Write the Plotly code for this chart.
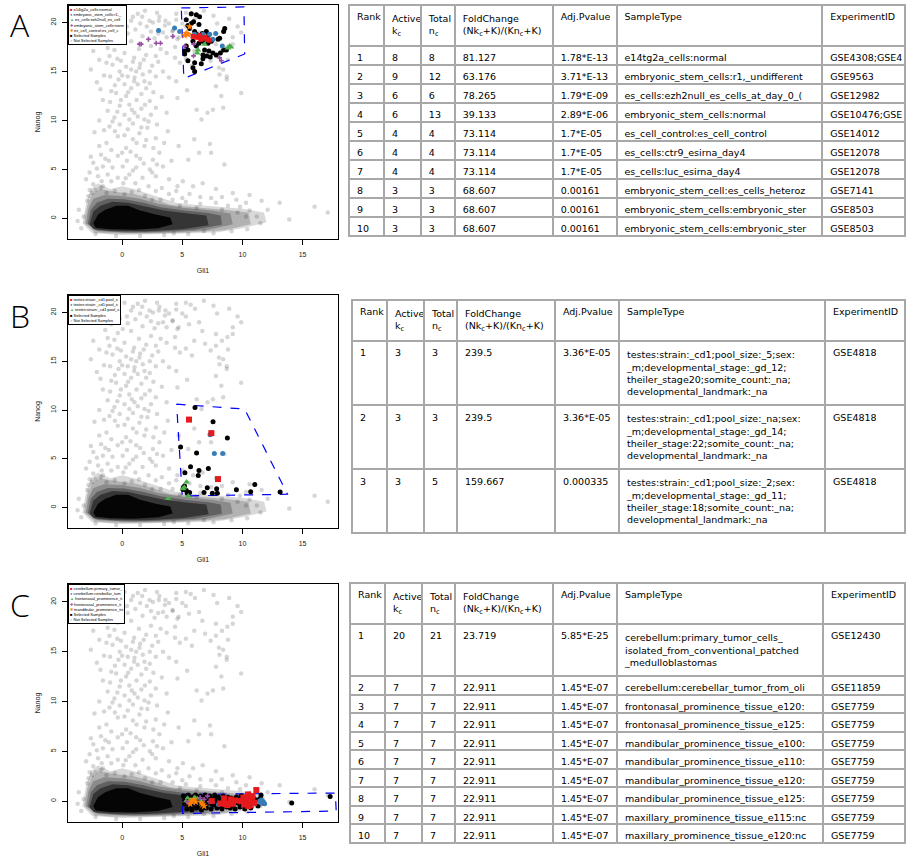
import plotly.graph_objects as go

W, H = 906, 859

# ---------------- background cloud (Gli1, Nanog), hand-read ----------------
cloud_pts = [
    (1.3,20.9),(1.67,20.6),(2.28,20.2),(2.56,20.0),(0.75,20.2),(3.1,20.6),(3.6,20.2),(3.9,19.9),(4.5,20.3),
    (2.05,19.6),(1.1,19.3),(0.47,18.9),(2.4,19.1),(3.4,19.0),(4.2,19.1),(1.7,18.6),(0.05,18.3),(-0.36,17.9),
    (0.75,18.1),(3.7,18.5),(4.6,18.3),(4.5,20.9),(5.3,21.0),(6.8,21.2),(7.6,20.7),(8.9,20.4),(9.6,19.6),
    (7.9,19.9),(5.0,19.9),(5.7,20.8),(6.06,20.4),(6.4,19.0),(5.3,19.6),(5.56,18.8),(6.67,18.1),(7.8,17.8),
    (8.3,17.1),(8.75,17.5),(9.2,17.8),(4.7,18.5),(4.2,19.2),(3.05,20.2),(3.56,19.7),(6.0,17.1),(6.9,16.8),
    (7.8,16.6),(8.05,15.4),(7.36,16.1),(5.8,15.6),(5.3,16.3),(4.4,17.5),(9.2,18.5),(9.9,19.0),
    (-1.9,16.2),(-1.05,16.6),(-0.64,17.2),(0.2,16.9),(1.0,16.4),(2.0,16.7),(2.8,16.6),(3.7,16.9),(4.4,16.4),
    (4.8,15.9),(8.8,16.2),(8.1,14.7),(8.7,14.5),(8.4,15.2),
    (0.33,15.5),(0.75,15.2),(1.17,15.0),(1.44,15.4),(1.72,14.7),(1.03,14.4),(0.47,14.5),(-0.2,15.0),(-0.8,15.7),
    (-1.3,15.9),(2.3,15.0),(2.8,14.5),(3.4,15.0),(1.86,14.0),(1.3,13.7),(0.75,13.3),(0.2,13.7),(2.3,13.8),
    (3.9,14.4),(4.5,14.0),(-1.5,14.6),(-2.1,13.9),(0.9,16.0),(1.5,15.8),(-0.4,16.3),
    (-0.5,12.8),(0.33,12.5),(1.2,12.1),(0.6,11.6),(-0.2,11.5),(1.6,12.7),(2.3,12.0),(-0.9,13.0),(-1.6,12.1),
    (2.8,11.3),(1.03,10.8),(0.2,10.6),(-0.64,10.3),(1.86,10.1),(3.7,10.8),(6.2,11.1),(7.1,10.8),(7.55,11.1),
    (8.4,11.3),(6.6,10.1),(9.9,12.8),(8.25,12.5),(7.8,13.5),(8.7,14.2),(-1.2,11.0),(4.6,12.3),(5.4,13.1),
    (-1.05,9.4),(-0.2,9.6),(0.47,9.1),(1.44,8.7),(2.1,9.25),(2.8,8.2),(0.9,8.1),(-0.36,8.4),(-1.3,7.7),
    (-1.9,7.4),(0.33,7.2),(1.86,7.4),(3.1,6.7),(1.17,6.4),(-0.36,6.4),(-1.75,6.5),(2.56,6.0),(6.0,8.1),
    (7.3,7.6),(6.4,6.7),(5.5,6.0),(8.5,5.5),(7.4,6.7),(-2.3,8.8),(3.8,8.9),(4.7,7.4),
    (-2.4,5.7),(-1.6,5.3),(-0.8,5.2),(0.05,5.3),(1.17,5.2),(2.3,5.0),(3.4,5.3),(-2.7,4.7),(-2.0,4.3),
    (-1.2,4.5),(-0.36,4.15),(0.6,4.5),(1.7,4.15),(2.8,4.3),(3.9,4.0),(5.05,3.8),(5.9,3.3),(6.7,3.6),
    (7.8,3.0),(-2.4,3.5),(-1.6,3.3),(4.5,2.8),(9.2,2.6),(10.6,2.4),
    (11.6,1.8),(12.1,0.9),(13.1,1.6),(13.9,-0.1),(16.0,1.2),(17.1,0.6),(-3.7,-0.27),(-3.6,0.9),
    (-1.7,19.0),(-1.0,19.8),(-0.5,20.5),(0.2,21.0),(1.9,21.2),(2.9,21.0),(-1.4,18.2),(-0.9,18.8),(0.4,19.6),
    (1.4,17.3),(2.4,17.6),(3.2,17.3),(-2.4,17.1),(-2.6,15.2),(-1.8,13.2),(-0.3,14.2),(2.6,12.9),(3.3,12.4),
    (-0.1,12.1),(1.6,11.2),(2.4,10.6),(-1.9,10.0),(-1.5,9.0),(0.9,9.7),(1.3,10.4),(2.9,9.6),(3.5,7.7),
    (-0.9,7.0),(0.7,6.8),(2.0,8.0),(-2.6,6.3),(-1.1,5.9),(0.4,5.9),(1.8,5.6),(2.9,5.5),(4.1,5.9),
    (-3.0,4.0),(-2.7,2.9),(-0.9,3.8),(0.1,3.6),(1.1,3.6),(2.2,3.3),(3.3,3.1),(4.6,3.3),(5.6,2.5),
    (6.5,2.2),(7.4,2.1),(8.3,2.2),(9.5,1.9),(10.3,1.6),
    (-3.2,0.2),(-2.9,1.8),(-2.5,2.6),(-1.8,3.1),(-0.6,2.8),(0.8,2.7),(1.9,2.3),(3.2,1.9),(4.2,1.9),
    (5.3,1.7),(6.5,1.5),(7.8,1.6),(8.8,1.3),(9.8,1.2),(10.6,0.8),(11.2,0.2),(11.5,-0.5),(10.4,-1.1),
    (9.1,-1.3),(7.6,-1.5),(5.5,-1.6),(3.5,-1.7),(1.5,-1.8),(-0.5,-1.8),(-2.2,-1.6),(-3.4,-1.0),
    (-2.8,2.3),(-2.2,2.9),(-1.3,2.6),(0.2,2.5),(2.5,1.9),(4.8,1.3),(6.2,1.1),(8.3,0.9),(9.6,0.6),
    (10.3,0.2),(6.8,-1.3),(4.3,-1.5),
    (-0.2,19.4),(0.9,20.6),(1.5,19.9),(2.7,18.4),(3.0,18.9),(-1.2,17.4),(-0.1,16.1),(1.8,16.2),(2.5,15.6),
    (3.0,16.0),(-1.0,14.5),(0.0,14.6),(1.0,14.0),(2.0,13.3),(-0.6,13.6),(0.5,12.9),(1.9,11.6),(-1.0,11.9),
    (0.8,11.1),(-0.4,10.9),(0.6,10.1),(2.2,9.9),(-0.8,9.9),(1.6,9.3),(-0.6,8.9),(0.2,8.5),(1.2,7.7),
    (2.6,7.2),(-1.4,6.1),(0.0,6.7),(1.5,6.1),(-2.1,5.1),(0.9,4.9),(2.5,4.7),(-1.7,3.8),(0.3,4.1),
    (1.4,2.9),(2.8,2.8),(3.9,2.5),(5.0,2.1),
]

# dense low-expression blob, as nested density outlines (outer -> core)
dens_outer = [(-3.3,-0.5),(-3.0,1.5),(-2.6,3.0),(-2.0,3.6),(-1.0,3.0),(0,3.3),(1.0,3.0),(2.0,2.6),(3.0,2.2),
              (4.5,1.6),(6.0,1.4),(8.0,1.2),(10.0,1.0),(11.8,0.6),(12.0,-0.4),(10,-1.0),(8,-1.4),(6,-1.5),
              (3,-1.6),(0,-1.7),(-2.5,-1.5)]
dens_outer2 = [(-3.15,-0.5),(-2.9,1.3),(-2.5,2.5),(-1.8,3.0),(-0.5,2.7),(1.0,2.5),(2.5,2.0),(4.0,1.4),(6.5,1.1),
               (8.5,0.9),(10.5,0.6),(10.7,-0.6),(8.5,-1.2),(5,-1.45),(2,-1.55),(-1,-1.55),(-2.3,-1.4)]
dens_mid = [(-3.0,-0.5),(-2.8,1.0),(-2.4,2.0),(-1.5,2.4),(0,2.3),(1.5,2.0),(3,1.5),(5,1.1),(7.5,0.8),
            (9.0,0.5),(9.2,-0.6),(7,-1.2),(4,-1.4),(1,-1.5),(-2.0,-1.3)]
dens_mid2 = [(-2.85,-0.55),(-2.6,0.9),(-2.1,1.6),(-1.2,2.0),(0.2,1.95),(1.8,1.6),(3.2,1.15),(5.2,0.8),(7.2,0.55),
             (8.2,0.3),(8.3,-0.65),(6,-1.15),(3,-1.35),(0,-1.4),(-2.2,-1.2)]
dens_inner = [(-2.7,-0.6),(-2.4,0.7),(-1.8,1.3),(-0.8,1.7),(0.5,1.6),(2,1.2),(3.5,0.8),(5.5,0.5),(7.0,0.3),
              (7.2,-0.7),(5,-1.1),(2,-1.3),(-1,-1.25),(-2.4,-1.1)]
dens_core = [(-2.4,-0.5),(-2.0,0.4),(-1.4,0.9),(-0.5,1.3),(0.5,1.3),(1.5,0.8),(2.8,0.4),(4.0,0.1),(4.2,-0.6),
             (3.0,-1.0),(1.0,-1.15),(-1.0,-1.1),(-2.2,-0.95)]

# ---------------- panel A ----------------
A_region = [(4.92,21.5),(10.13,21.6),(10.19,16.8),(5.13,14.3),(4.92,21.5)]
A_selected = [(5.75,20.9),(6.17,20.8),(6.44,20.6),(5.33,20.3),(5.94,20.1),(5.75,19.9),(5.47,19.7),(6.39,19.8),
              (5.61,19.4),(6.03,19.1),(6.17,18.8),(6.67,18.9),(7.0,19.1),(7.14,18.6),(8.11,18.4),(8.44,19.1),
              (8.53,19.4),(7.97,18.3),(5.89,18.1),(6.39,17.9),(6.72,18.1),(7.14,17.9),(7.42,18.1),(6.17,17.6),
              (5.47,17.2),(5.19,17.1),(5.33,17.6),(6.86,17.2),(7.22,17.1),(7.55,16.9),(7.05,16.6),(7.33,16.5),
              (7.83,16.7),(8.17,16.9),(8.44,17.2),(8.67,17.2),(5.47,16.1),(6.03,15.9),(6.58,15.8),(5.89,15.4),
              (6.72,16.3),(6.03,15.0),(6.72,16.7),(5.2,16.8)]
A_e14tg2a = [(5.9,18.6),(6.2,18.5),(6.45,18.7),(6.7,18.4),(6.9,18.5),(7.1,18.3),(7.25,18.2),(6.55,18.3)]
A_r1 = [(3.03,19.2),(4.36,19.45),(4.78,19.1),(6.03,18.8),(6.72,18.8),(7.28,18.8),(7.78,18.9),(7.55,18.3),(8.33,17.6)]
A_ezh2 = [(6.3,17.2),(6.25,16.9),(6.86,17.8),(8.94,17.6),(8.8,17.4),(9.05,17.5)]
A_normal = [(1.44,17.8),(1.58,17.8),(2.19,18.3),(2.83,17.9),(3.19,17.9),(4.22,18.6),(5.94,16.6),(8.11,16.4),
            (8.25,16.1),(5.2,17.6),(5.95,17.8)]
A_control = [(5.61,19.6),(5.33,18.9),(5.47,18.8),(5.19,18.7)]

# ---------------- panel B ----------------
B_region = [(4.53,10.6),(10.19,10.1),(13.75,1.36),(5.0,1.19),(4.53,10.6)]
B_selected = [(6.06,10.27),(7.56,8.81),(8.75,7.12),(6.19,5.59),(4.86,6.2),(5.69,4.17),(5.22,3.56),(6.39,3.8),
              (6.33,3.29),(7.17,4.0),(5.19,2.2),(5.33,1.76),(5.42,1.46),(6.81,1.53),(7.08,2.03),(7.5,1.46),
              (7.86,1.93),(7.92,1.46),(9.5,1.83),(10.69,1.63),(11.03,2.37),(13.14,1.59),(5.06,1.86),(5.61,1.53)]
B_gd12 = [(5.56,9.02),(7.42,7.63),(7.97,2.92)]
B_gd14 = [(7.31,7.46),(7.67,5.53),(8.36,5.53)]
B_gd11 = [(3.83,0.92),(5.36,2.61),(5.17,2.07),(5.06,1.93),(5.5,1.19)]

# ---------------- panel C ----------------
C_region = [(4.94,0.67),(17.73,0.81),(17.8,-1.0),(5.03,-1.24),(4.94,0.67)]
C_selected = [(5.1,0.5),(5.2,-0.3),(5.3,0.2),(5.4,-0.8),(5.5,0.6),(5.6,-0.5),(5.7,0.1),(5.8,-0.9),(5.9,0.4),
              (6.0,-0.2),(6.1,0.6),(6.2,-0.7),(6.3,0.2),(6.4,-0.4),(6.5,0.5),(6.6,-0.9),(6.7,0.1),(6.8,-0.3),
              (6.9,0.6),(7.0,-0.7),(7.1,0.3),(7.2,-0.2),(7.3,0.5),(7.4,-0.8),(7.5,0.2),(7.6,-0.4),(7.7,0.6),
              (7.8,-0.1),(7.9,-0.7),(8.0,0.4),(8.1,-0.3),(8.2,0.1),(8.3,-0.8),(8.4,0.5),(8.5,-0.2),(8.6,0.2),
              (8.7,-0.6),(8.8,0.4),(8.9,-0.1),(9.0,-0.7),(9.1,0.3),(9.2,-0.4),(9.3,0.1),(9.4,-0.8),(9.5,0.4),
              (9.6,-0.2),(9.7,0.2),(9.8,-0.6),(9.9,0.5),(10.0,-0.3),(10.1,0.1),(10.2,-0.8),(10.3,0.3),
              (10.4,-0.4),(10.6,0.2),(10.7,-0.7),(10.9,0.4),(11.0,-0.2),(11.2,0.1),(11.3,-0.5),(11.5,0.3),
              (11.7,-0.2),(5.2,0.1),(5.6,0.3),(6.0,0.3),(6.4,0.0),(6.8,-0.6),(7.2,0.1),(7.6,0.2),(8.0,-0.5),
              (5.45,-0.1),(5.85,-0.5),(6.25,-0.1),(6.65,0.35),(7.05,0.0),(7.45,-0.3),(7.85,0.35),(8.25,-0.5),
              (14.1,-0.2),(17.3,0.47),(11.55,0.6)]
C_primary = [(7.46,0.0),(8.48,0.27),(8.15,-0.24),(8.56,-0.27),(9.03,0.17),(9.22,-0.27),(10.08,0.34),(10.27,-0.07),
             (10.41,0.4),(10.55,0.0),(10.69,-0.4),(10.8,0.17),(10.97,-0.17),(11.16,1.11),(10.47,0.67),(10.14,-0.34),
             (9.86,0.0),(9.39,0.07),(8.76,-0.4),(10.83,0.5),(10.5,-0.5)]
C_cerebellar = [(10.27,0.34),(11.74,-0.07),(11.85,-0.27),(11.52,-0.17),(8.01,-0.34),(11.44,0.0),(11.6,0.1)]
C_fronto120 = [(5.44,0.34),(5.66,0.17),(5.86,0.07),(6.27,0.27),(6.55,0.0),(5.3,0.0),(6.05,0.4)]
C_fronto125 = [(5.39,-0.07),(6.0,-0.17),(6.49,0.34),(6.82,0.17),(7.1,0.5),(5.58,-0.27),(7.24,-0.07)]
C_mandib100 = [(5.77,0.0),(5.94,0.17),(6.69,-0.34),(6.82,-0.5),(6.13,-0.07),(5.66,-0.27),(6.6,-0.17)]

# legend labels
A_legend = ["e14tg2a_cells:normal", "embryonic_stem_cells:r1,_", "es_cells:ezh2null_es_cell",
            "embryonic_stem_cells:norm", "es_cell_control:es_cell_c", "Selected Samples", "Not Selected Samples"]
B_legend = ["testes:strain:_cd1;pool_s", "testes:strain:_cd1;pool_s", "testes:strain:_cd1;pool_s",
            "Selected Samples", "Not Selected Samples"]
C_legend = ["cerebellum:primary_tumor_", "cerebellum:cerebellar_tum", "frontonasal_prominence_ti",
            "frontonasal_prominence_ti", "mandibular_prominence_tis", "Selected Samples", "Not Selected Samples"]

# ---------------- tables ----------------
tbl_header = ["Rank", "Active<br>k<sub>c</sub>", "Total<br>n<sub>c</sub>",
              "FoldChange<br>(Nk<sub>c</sub>+K)/(Kn<sub>c</sub>+K)", "Adj.Pvalue", "SampleType", "ExperimentID"]

TA_rank = [1, 2, 3, 4, 5, 6, 7, 8, 9, 10]
TA_active = [8, 9, 6, 6, 4, 4, 4, 3, 3, 3]
TA_total = [8, 12, 6, 13, 4, 4, 4, 3, 3, 3]
TA_fold = ["81.127", "63.176", "78.265", "39.133", "73.114", "73.114", "73.114", "68.607", "68.607", "68.607"]
TA_pval = ["1.78*E-13", "3.71*E-13", "1.79*E-09", "2.89*E-06", "1.7*E-05", "1.7*E-05", "1.7*E-05",
           "0.00161", "0.00161", "0.00161"]
TA_sample = ["e14tg2a_cells:normal", "embryonic_stem_cells:r1,_undifferent", "es_cells:ezh2null_es_cells_at_day_0_(",
             "embryonic_stem_cells:normal", "es_cell_control:es_cell_control", "es_cells:ctr9_esirna_day4",
             "es_cells:luc_esirna_day4", "embryonic_stem_cell:es_cells_heteroz",
             "embryonic_stem_cells:embryonic_ster", "embryonic_stem_cells:embryonic_ster"]
TA_exp = ["GSE4308;GSE4", "GSE9563", "GSE12982", "GSE10476;GSE", "GSE14012", "GSE12078", "GSE12078",
          "GSE7141", "GSE8503", "GSE8503"]

TB_rank = [1, 2, 3]
TB_active = [3, 3, 3]
TB_total = [3, 3, 5]
TB_fold = ["239.5", "239.5", "159.667"]
TB_pval = ["3.36*E-05", "3.36*E-05", "0.000335"]
TB_sample = ["testes:strain:_cd1;pool_size:_5;sex:<br>_m;developmental_stage:_gd_12;<br>theiler_stage20;somite_count:_na;<br>developmental_landmark:_na",
             "testes:strain:_cd1;pool_size:_na;sex:<br>_m;developmental_stage:_gd_14;<br>theiler_stage:22;somite_count:_na;<br>developmental_landmark:_na",
             "testes:strain:_cd1;pool_size:_2;sex:<br>_m;developmental_stage:_gd_11;<br>theiler_stage:18;somite_count:_na;<br>developmental_landmark:_na"]
TB_exp = ["GSE4818", "GSE4818", "GSE4818"]

TC_rank = [1, 2, 3, 4, 5, 6, 7, 8, 9, 10]
TC_active = [20, 7, 7, 7, 7, 7, 7, 7, 7, 7]
TC_total = [21, 7, 7, 7, 7, 7, 7, 7, 7, 7]
TC_fold = ["23.719"] + ["22.911"] * 9
TC_pval = ["5.85*E-25"] + ["1.45*E-07"] * 9
TC_sample = ["cerebellum:primary_tumor_cells_<br>isolated_from_conventional_patched<br>_medulloblastomas",
             "cerebellum:cerebellar_tumor_from_oli", "frontonasal_prominence_tissue_e120:",
             "frontonasal_prominence_tissue_e125:", "mandibular_prominence_tissue_e100:",
             "mandibular_prominence_tissue_e110:", "mandibular_prominence_tissue_e120:",
             "mandibular_prominence_tissue_e125:", "maxillary_prominence_tissue_e115:nc",
             "maxillary_prominence_tissue_e120:nc"]
TC_exp = ["GSE12430", "GSE11859"] + ["GSE7759"] * 8

# ---------------- styling ----------------
RED, BLUE, GREEN, PURPLE, ORANGE = "#e41a1c", "#377eb8", "#4daf4a", "#984ea3", "#ff7f00"
GREY_PT = "rgba(0,0,0,0.16)"
TICKFONT = dict(family="Liberation Sans, Arial, sans-serif", size=7, color="#222")
TFONT = dict(family="DejaVu Sans, Verdana, sans-serif", size=9.5, color="black")
LINEC = "#a8a8a8"

def px_x(px):
    return px / W

def px_y(py):
    return 1 - py / H

panels = [
    ("A", "", 5, 239),
    ("B", "2", 295, 528),
    ("C", "3", 584, 822),
]

fig = go.Figure()

def xy(pts):
    return [p[0] for p in pts], [p[1] for p in pts]

def add_panel(suffix, region, selected, groups):
    xa, ya = "x" + suffix, "y" + suffix
    cx, cy = xy(cloud_pts)
    fig.add_trace(go.Scatter(x=cx, y=cy, mode="markers", xaxis=xa, yaxis=ya, showlegend=False,
                             marker=dict(size=4.5, color=GREY_PT, line=dict(width=0)), hoverinfo="skip"))
    for poly, a in [(dens_outer, 0.15), (dens_outer2, 0.18), (dens_mid, 0.22), (dens_mid2, 0.3),
                    (dens_inner, 0.45), (dens_core, 0.9)]:
        px_, py_ = xy(poly + poly[:1])
        fig.add_trace(go.Scatter(x=px_, y=py_, mode="lines", fill="toself", fillcolor=f"rgba(0,0,0,{a})",
                                 line=dict(width=0), xaxis=xa, yaxis=ya, showlegend=False, hoverinfo="skip"))
    rx, ry = xy(region)
    fig.add_trace(go.Scatter(x=rx, y=ry, mode="lines", line=dict(color="#0000ff", width=1.2, dash="dash"),
                             xaxis=xa, yaxis=ya, showlegend=False, hoverinfo="skip"))
    sx, sy = xy(selected)
    fig.add_trace(go.Scatter(x=sx, y=sy, mode="markers", marker=dict(size=5, color="black"),
                             xaxis=xa, yaxis=ya, showlegend=False))
    for pts, color, symbol, size in groups:
        gx, gy = xy(pts)
        fig.add_trace(go.Scatter(x=gx, y=gy, mode="markers", xaxis=xa, yaxis=ya, showlegend=False,
                                 marker=dict(size=size, color=color, symbol=symbol, line=dict(width=0))))

add_panel("", A_region, A_selected, [
    (A_normal, PURPLE, "cross", 4), (A_r1, BLUE, "circle", 5), (A_ezh2, GREEN, "triangle-up", 6),
    (A_control, ORANGE, "star", 6), (A_e14tg2a, RED, "square", 5)])
add_panel("2", B_region, B_selected, [
    (B_gd11, GREEN, "triangle-up", 6), (B_gd14, BLUE, "circle", 5), (B_gd12, RED, "square", 6)])
add_panel("3", C_region, C_selected, [
    (C_fronto120, GREEN, "triangle-up", 5), (C_fronto125, PURPLE, "cross", 4),
    (C_mandib100, ORANGE, "star", 6), (C_cerebellar, BLUE, "circle", 5), (C_primary, RED, "square", 6)])

layout = dict(width=W, height=H, margin=dict(l=0, r=0, t=0, b=0), paper_bgcolor="white",
              plot_bgcolor="white", showlegend=False)

for name, suf, top, bot in panels:
    layout["xaxis" + suf] = dict(
        domain=[px_x(68), px_x(338)], anchor="y" + suf, range=[-4.5, 17.95],
        tickvals=[0, 5, 10, 15], ticks="outside", ticklen=5, tickcolor="black", tickwidth=1,
        showline=True, linecolor="black", linewidth=1, mirror=True, showgrid=False, zeroline=False,
        tickfont=TICKFONT, ticklabelstandoff=4,
        title=dict(text="Gli1", font=dict(family="Liberation Sans, Arial, sans-serif", size=7, color="#222"),
                   standoff=10))
    layout["yaxis" + suf] = dict(
        domain=[px_y(bot), px_y(top)], anchor="x" + suf, range=[-2.1, 21.8],
        tickvals=[0, 5, 10, 15, 20], ticks="outside", ticklen=5, tickcolor="black", tickwidth=1,
        tickangle=-90, showline=True, linecolor="black", linewidth=1, mirror=True, showgrid=False,
        zeroline=False, tickfont=TICKFONT, ticklabelstandoff=3,
        title=dict(text="Nanog", font=dict(family="Liberation Sans, Arial, sans-serif", size=7, color="#222"),
                   standoff=8))
fig.update_layout(**layout)

# panel letters
for name, suf, top, bot in panels:
    fig.add_annotation(text=name, xref="paper", yref="paper", x=px_x(20), y=px_y(top + 20),
                       xanchor="center", yanchor="middle", showarrow=False,
                       font=dict(family="Open Sans, Liberation Sans, sans-serif", size=32, color="black",
                                 weight=300))

# legends (real text boxes)
def legend_text(labels, colors, glyphs):
    lines = []
    for lab, col, g in zip(labels, colors, glyphs):
        lines.append(f"<span style='color:{col}'>{g}</span> {lab}")
    return "<br>".join(lines)

legends = [
    (A_legend, [RED, BLUE, GREEN, PURPLE, ORANGE, "black", "#cccccc"], ["■", "●", "▲", "✚", "✱", "■", "●"], 5),
    (B_legend, [RED, BLUE, GREEN, "black", "#cccccc"], ["■", "●", "▲", "■", "●"], 295),
    (C_legend, [RED, BLUE, GREEN, PURPLE, ORANGE, "black", "#cccccc"], ["■", "●", "▲", "✚", "✱", "■", "●"], 584),
]
for labels, colors, glyphs, top in legends:
    fig.add_annotation(text=legend_text(labels, colors, glyphs), xref="paper", yref="paper",
                       x=px_x(68), y=px_y(top), xanchor="left", yanchor="top", align="left",
                       showarrow=False, bgcolor="white", bordercolor="black", borderwidth=1, borderpad=1,
                       font=dict(family="Liberation Sans, Arial, sans-serif", size=4, color="black"))

def add_table(cols, widths, x0, top, cell_h):
    x1 = x0 + sum(widths)
    fig.add_trace(go.Table(
        domain=dict(x=[px_x(x0), min(1.0, px_x(x1))], y=[px_y(min(top + 272, H)), px_y(top)]),
        columnwidth=widths,
        header=dict(values=tbl_header, align="left", font=TFONT, fill_color="white",
                    line=dict(color=LINEC, width=2), height=30),
        cells=dict(values=cols, align="left", font=TFONT, fill_color="white",
                   line=dict(color=LINEC, width=2), height=cell_h)))

add_table([TA_rank, TA_active, TA_total, TA_fold, TA_pval, TA_sample, TA_exp],
          [35, 37, 34, 98, 64, 206, 83], 349, 5, 19)
add_table([TB_rank, TB_active, TB_total, TB_fold, TB_pval, TB_sample, TB_exp],
          [35, 37, 33, 98, 64, 206, 80], 352, 300, 20)
add_table([TC_rank, TC_active, TC_total, TC_fold, TC_pval, TC_sample, TC_exp],
          [35, 37, 33, 98, 64, 206, 82], 350, 583, 18.5)

fig.write_html("out.html")
